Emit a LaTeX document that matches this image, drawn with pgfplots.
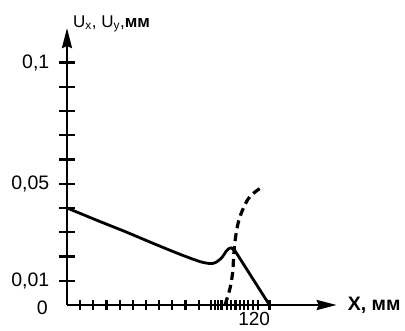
\documentclass[border=0pt]{standalone}
\usepackage{pgfplots}
\pgfplotsset{compat=1.18}
\usetikzlibrary{arrows.meta}
\usepackage{fontspec}
\setmainfont{Liberation Sans}
\begin{document}
\begin{tikzpicture}
\useasboundingbox (0,0) rectangle (405pt,330pt);
\begin{axis}[
  at={(67pt,25pt)}, anchor=origin,
  x=1.6875pt, y=2425pt,
  xmin=0, xmax=159.8, ymin=0, ymax=0.1142,
  axis lines=left,
  axis line style={line width=2.5pt, -{Stealth[length=20pt,width=10pt,inset=2pt]}},
  clip=false,
  tick align=center,
  xtick={7.8,15.6,23.4,31.2,39,46.8,54.6,62.4,70.2,78,85.5,87.5,89.5,91.5,95,97.3,99.8,102.3,104.8,107.3,110,113,120},
  xticklabels={},
  major tick length=9pt,
  minor tick length=15pt,
  ytick={0.01,0.05,0.1},
  yticklabels={{0,01},{0,05},{0,1}},
  minor ytick={0.01,0.02,0.03,0.04,0.05,0.06,0.07,0.08,0.09,0.1},
  every tick/.style={black, line width=2.2pt},
  every minor tick/.style={black, line width=2.2pt},
  yticklabel style={font=\fontsize{19.5}{22}\selectfont, inner sep=0pt, anchor=east, xshift=-13pt},
]
\addplot[black, line width=2.8pt, smooth, tension=0.45, line join=round] coordinates {
  (0,0.0400) (7.7,0.0378) (19.6,0.0344) (35.4,0.0300) (51.1,0.0254)
  (67.0,0.0209) (78.8,0.0179) (84.7,0.0171) (88.0,0.0175) (91.7,0.0195)
  (94.6,0.0224) (97.0,0.0236) (99.6,0.0223)
};
\addplot[black, line width=2.8pt, line join=round] coordinates {
  (99.6,0.0223) (120,0)
};
\addplot[black, line width=3.2pt, smooth, tension=0.6, dash pattern=on 8pt off 5pt] coordinates {
  (93.6,0) (96.6,0.0069) (98.2,0.0137) (98.8,0.0206) (99.8,0.0275)
  (101.6,0.0343) (104.5,0.0399) (108.4,0.0447) (114.4,0.0481)
};
\node[anchor=east, inner sep=0pt, font=\fontsize{19.5}{22}\selectfont] at (axis cs:0,0) [xshift=-19pt, yshift=-3pt] {0};
\node[anchor=north, inner sep=0pt, font=\fontsize{19}{22}\selectfont] at (axis cs:110.9,0) [yshift=-7pt] {120};
\node[anchor=west, inner sep=0pt, font=\fontsize{19.5}{22}\selectfont\bfseries] at (axis cs:159.8,0) [xshift=11pt] {X, мм};
\node[anchor=base west, inner sep=0pt, font=\fontsize{17}{20}\selectfont] at (axis cs:0,0.1142) [xshift=6pt, yshift=1pt] {U\textsubscript{x}, U\textsubscript{y},\textbf{мм}};
\end{axis}
\end{tikzpicture}
\end{document}
